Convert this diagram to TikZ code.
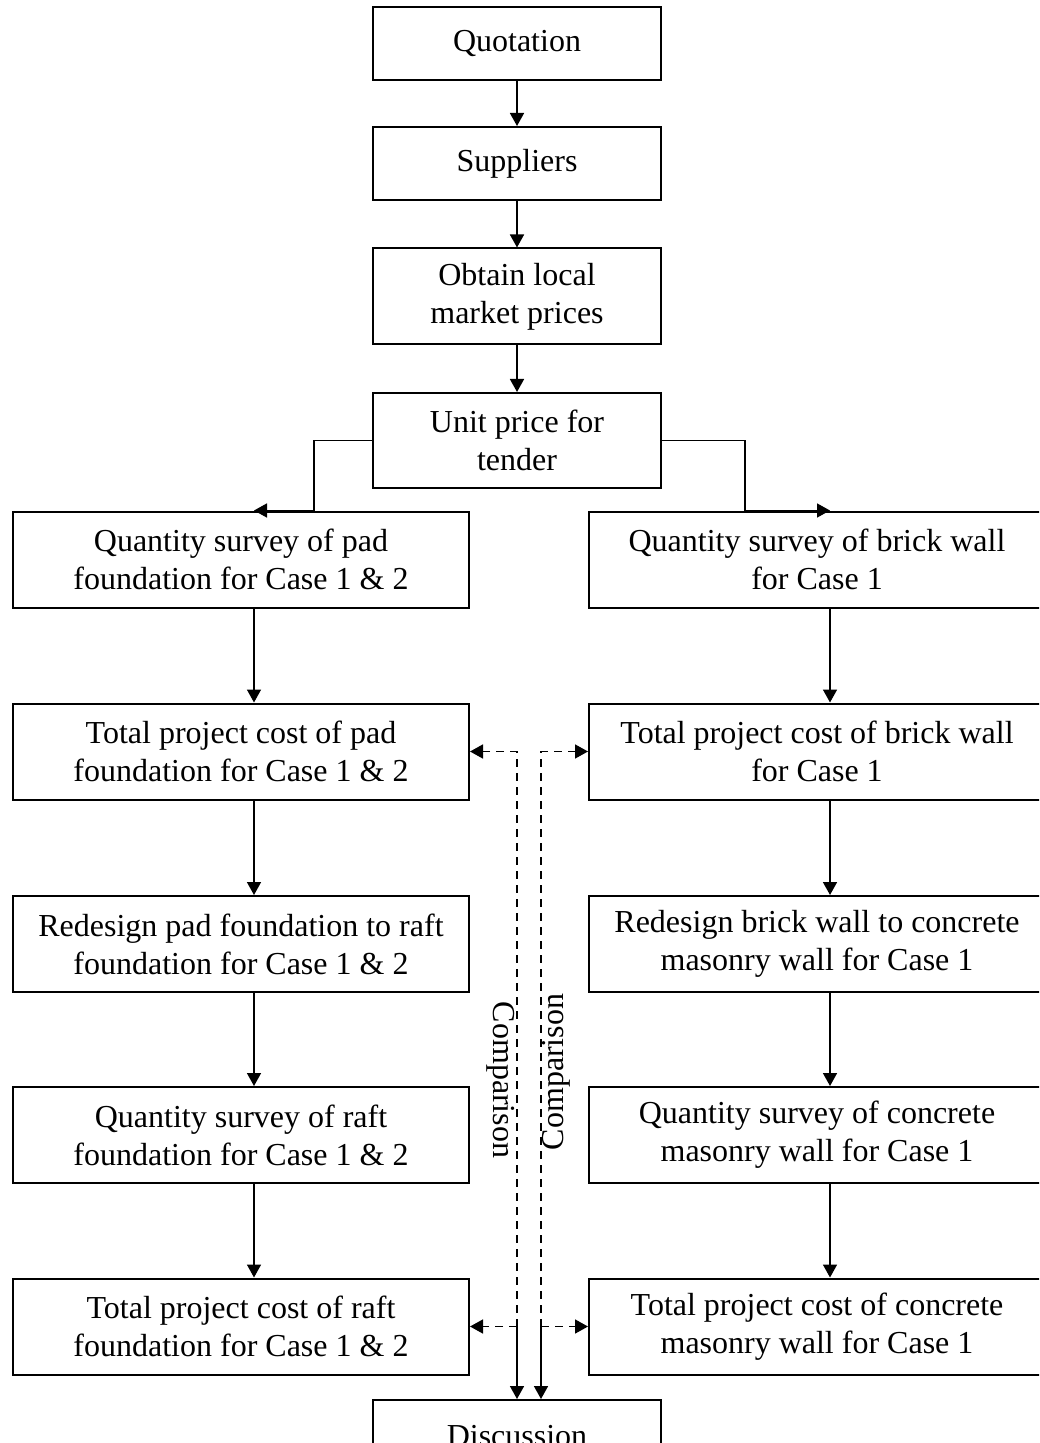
\documentclass[tikz,border=0pt]{standalone}
\usepackage{fontspec}
\setmainfont{Liberation Serif}
\usetikzlibrary{arrows.meta}
\usetikzlibrary{calc}

\begin{document}
\begin{tikzpicture}
		[x=0.5pt, y=-0.5pt,
		> = {Triangle[length=6.5pt,width=7pt]},
		every node/.style={font=\fontsize{16}{19}\selectfont},
		topbox/.style = {draw, line width=1pt, minimum width=144pt, minimum height=36.5pt, align=center, inner sep=0pt},
		sidebox/.style = {draw, line width=1pt, minimum width=228pt, minimum height=48pt, align=center, inner sep=0pt},
		flow/.style = {->, line width=0.8pt},
		compare/.style = {->, line width=0.8pt, dash pattern=on 4pt off 3pt}
		]
		\useasboundingbox (0,0) rectangle (1039,1443);
		\clip (0,0) rectangle (1039,1443);

		% middle column
		\node[topbox] (quot) at (517,43.5) {Quotation};
		\node[topbox] (supp) at (517,163.5) {Suppliers};
		\node[topbox, minimum height=48pt] (market) at (517,296.5) {Obtain local\\market prices};
		\node[topbox, minimum height=47.5pt] (unit) at (517,440.5) {Unit price for\\tender};
		\node[topbox] (disc) at (517,1436.5) {Discussion};

		% foundation column
		\node[sidebox] (padqs) at (241,559.5) {Quantity survey of pad\\foundation for Case 1 \& 2};
		\node[sidebox] (padcost) at (241,751.5) {Total project cost of pad\\foundation for Case 1 \& 2};
		\node[sidebox] (raftdes) at (241,944) {Redesign pad foundation to raft\\foundation for Case 1 \& 2};
		\node[sidebox] (raftqs) at (241,1135) {Quantity survey of raft\\foundation for Case 1 \& 2};
		\node[sidebox] (raftcost) at (241,1326.5) {Total project cost of raft\\foundation for Case 1 \& 2};

		% wall column
		\node[sidebox] (brickqs) at (817,559.5) {Quantity survey of brick wall\\for Case 1};
		\node[sidebox] (brickcost) at (817,751.5) {Total project cost of brick wall\\for Case 1};
		\node[sidebox] (cmwdes) at (817,944) {Redesign brick wall to concrete\\masonry wall for Case 1};
		\node[sidebox] (cmwqs) at (817,1135) {Quantity survey of concrete\\masonry wall for Case 1};
		\node[sidebox] (cmwcost) at (817,1326.5) {Total project cost of concrete\\masonry wall for Case 1};

		\draw[flow] (quot) -- (supp);
		\draw[flow] (supp) -- (market);
		\draw[flow] (market) -- (unit);

		\foreach \a/\b in {padqs/padcost, padcost/raftdes, raftdes/raftqs, raftqs/raftcost,
			brickqs/brickcost, brickcost/cmwdes, cmwdes/cmwqs, cmwqs/cmwcost}
			\draw[flow] ([xshift=6.5pt]\a.south) -- ([xshift=6.5pt]\b.north);

		% branches from unit price
		\coordinate (lturn) at (314,0);
		\coordinate (rturn) at (745,0);
		\draw[flow] (unit.west) -| (lturn |- padqs.north) -- ([xshift=6.5pt]padqs.north);
		\draw[flow] (unit.east) -| (rturn |- brickqs.north) -- ([xshift=6.5pt]brickqs.north);

		% comparison lines
		\coordinate (lsplit) at (517,0);
		\coordinate (rsplit) at (541,0);
		\draw[compare] (lsplit |- raftcost.east) |- (padcost.east);
		\draw[compare] (lsplit |- raftcost.east) -- (raftcost.east);
		\draw[flow] (lsplit |- raftcost.east) -- (lsplit |- disc.north);
		\draw[compare] (rsplit |- cmwcost.west) |- (brickcost.west);
		\draw[compare] (rsplit |- cmwcost.west) -- (cmwcost.west);
		\draw[flow] (rsplit |- cmwcost.west) -- (rsplit |- disc.north);

		\node[rotate=-90] (cmpL) at (501,1080) {Comparison};
		\node[rotate=90] (cmpR) at (556,1072) {Comparison};
	\end{tikzpicture}
\end{document}
